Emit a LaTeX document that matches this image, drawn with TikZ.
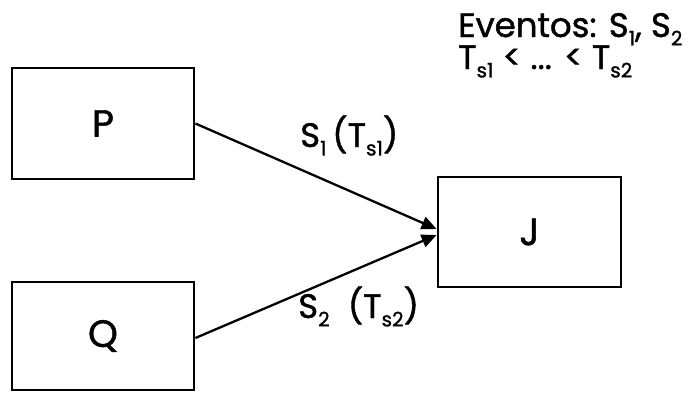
\documentclass[tikz,border=0pt]{standalone}
\usepackage{fontspec}
\setmainfont{Poppins}[FakeBold=1.2]
\usetikzlibrary{arrows.meta}
\newcommand{\sbs}[1]{\raisebox{-0.45ex}{\fontsize{20}{20}\selectfont #1}}
\tikzset{
  procbox/.style={draw=black, line width=2.8pt, minimum width=182pt, minimum height=111pt, inner sep=0pt, font=\fontsize{38}{38}\selectfont},
  signal/.style={line width=2.3pt, -{Triangle[length=15pt,width=13pt]}},
  lbl/.style={anchor=base west, inner sep=0pt, font=\fontsize{34}{34}\selectfont},
}
\begin{document}
\begin{tikzpicture}[x=1pt,y=-1pt]
\useasboundingbox (0,0) rectangle (690,392);
\node[procbox] (P) at (103,123.5) {P};
\node[procbox, minimum height=108pt] (Q) at (103,336) {Q};
\node[procbox, minimum width=183pt, minimum height=110pt] (J) at (529.5,232) {J};
\coordinate (ja) at ([yshift=3pt]J.west);
\coordinate (jb) at ([yshift=-3pt]J.west);
\draw[signal] (P.east) -- (ja);
\draw[signal] ([yshift=-2pt]Q.east) -- (jb);
\node[lbl] (l1) at (300,147) {S\sbs{1}\,(T\sbs{s1})};
\node[lbl] (l2) at (298,318) {S\sbs{2}\ \ (T\sbs{s2})};
\node[lbl] (ev) at (458,37) {Eventos: S\sbs{1}, S\sbs{2}};
\node[lbl] (ts) at (458,69) {T\sbs{s1} < ... < T\sbs{s2}};
\end{tikzpicture}
\end{document}
